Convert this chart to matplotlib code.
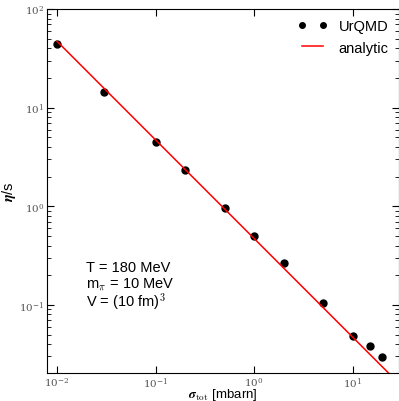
import matplotlib
matplotlib.use("Agg")
import matplotlib.pyplot as plt
from matplotlib.ticker import LogLocator, NullLocator

plt.rcParams['font.family'] = ['Liberation Sans', 'DejaVu Sans']
plt.rcParams['mathtext.fontset'] = 'cm'

# UrQMD points
sigma = [0.01, 0.03, 0.1, 0.2, 0.5, 1, 2, 5, 10, 15, 20]
eta_s = [44, 14.4, 4.5, 2.35, 0.95, 0.50, 0.263, 0.105, 0.0486, 0.0382, 0.0298]

# analytic curve (straight line on log-log), end points
sigma_an = [0.01, 30]
eta_an = [47, 0.0157]

info = ["T = 180 MeV", r"m$_\pi$ = 10 MeV", r"V = (10 fm)$^3$"]

fig = plt.figure(figsize=(3.99, 4.02), dpi=100)
ax = fig.add_axes([47/399, 28/402, 352/399, 364/402])

ax.plot(sigma, eta_s, 'o', color='black', markersize=5, label='UrQMD')
ax.plot(sigma_an, eta_an, '-', color='red', lw=1.1, label='analytic')

ax.set_xscale('log')
ax.set_yscale('log')
ax.set_xlim(0.0079, 29.5)
ax.set_ylim(0.0204, 100)

ax.xaxis.set_minor_locator(NullLocator())
ax.yaxis.set_minor_locator(LogLocator(base=10, subs=range(2, 10)))
ax.tick_params(which='both', direction='in', top=True, right=True,
               labelsize=7.5, labelcolor='#555555', pad=2)
ax.tick_params(which='major', length=5)
ax.tick_params(which='minor', length=3)
for lab in ax.get_xticklabels() + ax.get_yticklabels():
    lab.set_family('serif')

ax.set_xlabel(r'$\boldsymbol{\sigma}_{\rm tot}$ [mbarn]', fontsize=9.5)
ax.xaxis.set_label_coords(0.5, -0.036)
ax.set_ylabel(r'$\boldsymbol{\eta}$/s', fontsize=10.5)
ax.yaxis.set_label_coords(-0.083, 0.5)

#text block
for i, t in enumerate(info):
    ax.text(0.11, 0.28 - i*0.047, t, transform=ax.transAxes, fontsize=10.5,
            va='baseline')

ax.legend(loc='upper right', numpoints=2, frameon=False, fontsize=10.5,
          handlelength=2.0, borderaxespad=0.3, labelspacing=0.5,
          markerscale=0.8)

fig.savefig('out.png', dpi=100)
